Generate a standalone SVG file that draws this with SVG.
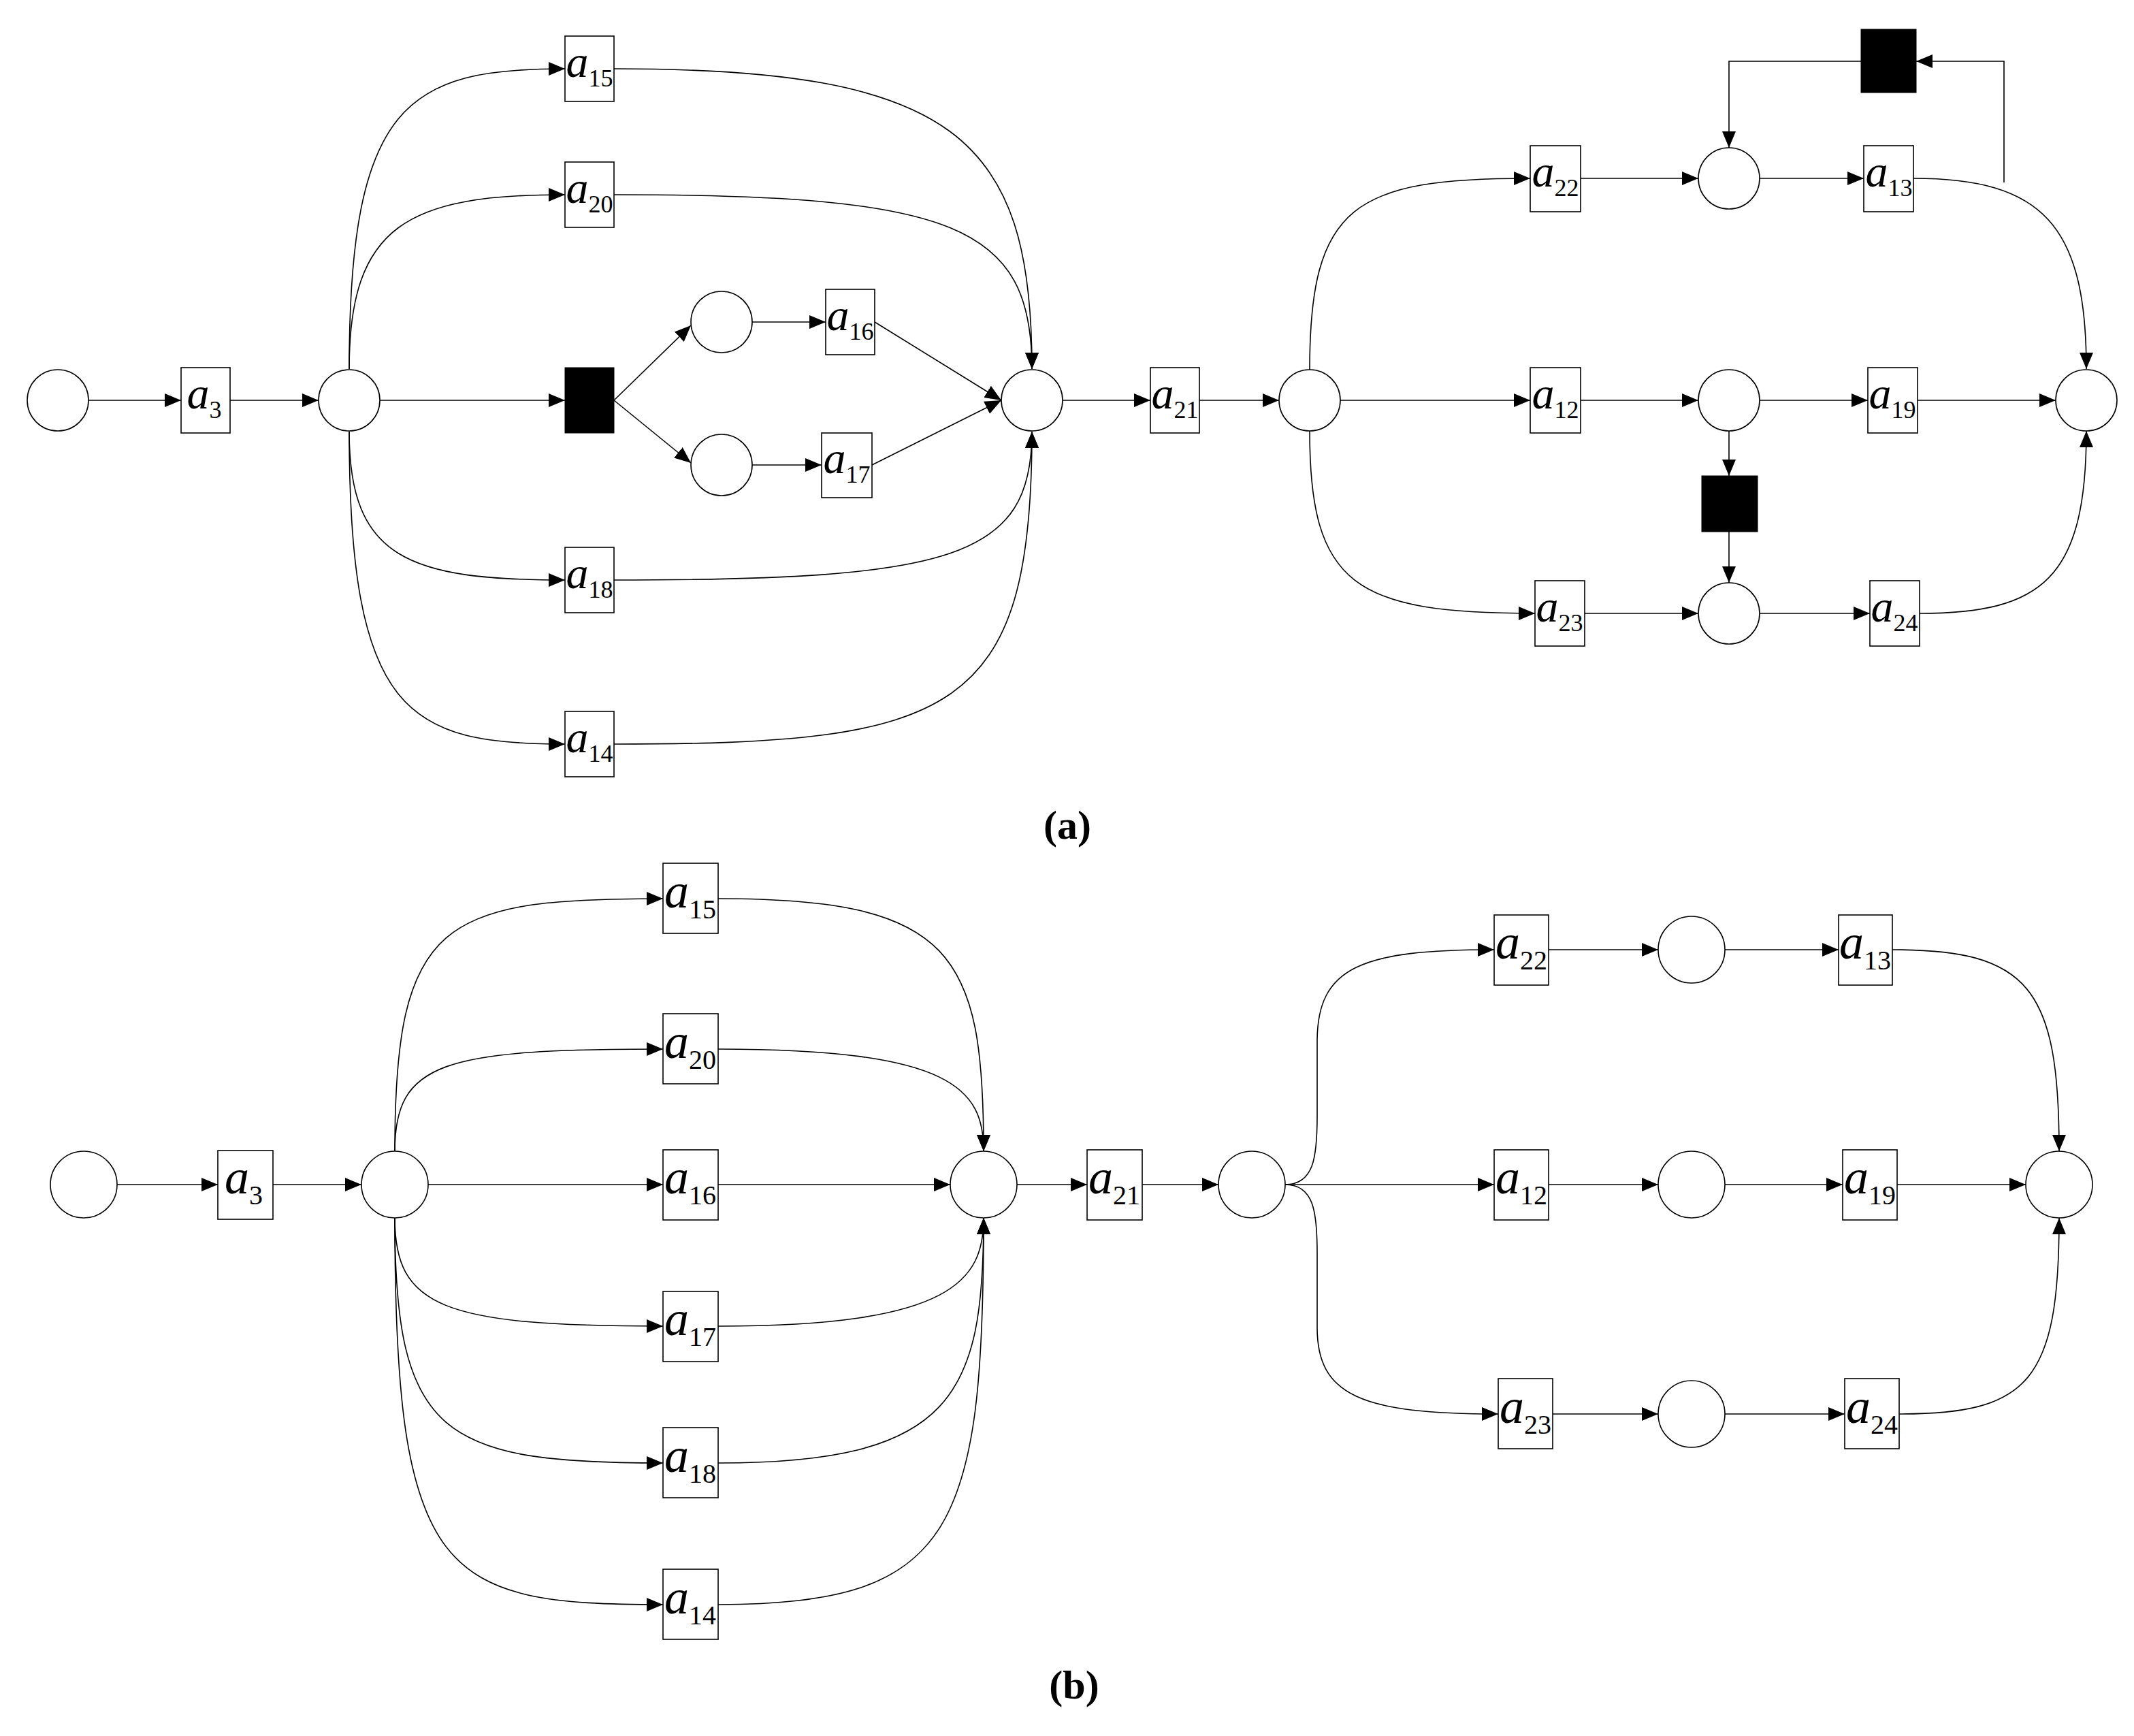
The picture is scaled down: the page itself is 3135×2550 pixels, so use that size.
<svg xmlns="http://www.w3.org/2000/svg" width="3135" height="2550" viewBox="0 0 3135 2550">
<style>
.p{fill:#fff;stroke:#000;stroke-width:1.6}
.t{fill:#fff;stroke:#000;stroke-width:1.6}
.k{fill:#000;stroke:#000}
.e{fill:none;stroke:#000;stroke-width:1.6;marker-end:url(#ar)}
.n{fill:none;stroke:#000;stroke-width:1.6}
.l{font-family:"Liberation Serif",serif;text-anchor:middle;fill:#000}
.a{font-style:italic;font-size:66px}
.s{font-size:36px}
.b .a{font-size:72px}
.b .s{font-size:40px}
.cap{font-family:"Liberation Serif",serif;font-weight:bold;font-size:60px;text-anchor:middle}
</style>
<defs>
<marker id="ar" markerUnits="userSpaceOnUse" markerWidth="24" markerHeight="24" viewBox="0 0 24 24" refX="24" refY="12" orient="auto"><path d="M0,2 L24,12 L0,22 Z" fill="#000"/></marker>
</defs>
<g id="connectors">
<!-- (a) -->
<path class="e" d="M130,588 H266"/>
<path class="e" d="M338,588 H468"/>
<path class="e" d="M513,542 C513,150 600,101 830,101"/>
<path class="e" d="M513,542 C513,330 600,286 830,286"/>
<path class="e" d="M513,634 C513,820 600,852 830,852"/>
<path class="e" d="M513,634 C513,1050 600,1093 830,1093"/>
<path class="e" d="M558,588 H830"/>
<path class="e" d="M902,588 L1015,478"/>
<path class="e" d="M902,588 L1015,680"/>
<path class="e" d="M1105,473 H1213"/>
<path class="e" d="M1105,683 H1207"/>
<path class="e" d="M1285,473 L1471,588"/>
<path class="e" d="M1281,683 L1471,588"/>
<path class="e" d="M902,101 C1400,101 1516,200 1516,542"/>
<path class="e" d="M902,286 C1400,286 1516,330 1516,542"/>
<path class="e" d="M902,852 C1400,852 1516,820 1516,634"/>
<path class="e" d="M902,1093 C1400,1093 1516,1050 1516,634"/>
<path class="e" d="M1561,588 H1690"/>
<path class="e" d="M1762,588 H1879"/>
<path class="e" d="M1924,543 C1924,300 1990,262 2248,262"/>
<path class="e" d="M1924,633 C1924,860 1990,901 2255,901"/>
<path class="e" d="M1969,588 H2248"/>
<path class="e" d="M2322,262 H2495"/>
<path class="e" d="M2585,262 H2738"/>
<path class="e" d="M2811,262 C3000,262 3065,330 3065,542"/>
<path class="e" d="M2944,268 V90 H2815"/>
<path class="e" d="M2734,90 H2540 V217"/>
<path class="e" d="M2322,588 H2495"/>
<path class="e" d="M2585,588 H2744"/>
<path class="e" d="M2817,588 H3020"/>
<path class="e" d="M2540,633 V699"/>
<path class="e" d="M2540,781 V856"/>
<path class="e" d="M2328,901 H2495"/>
<path class="e" d="M2585,901 H2747"/>
<path class="e" d="M2820,901 C3000,901 3065,850 3065,633"/>
<!-- (b) -->
<path class="e" d="M172,1740 H320"/>
<path class="e" d="M401,1740 H531"/>
<path class="e" d="M629,1740 H974"/>
<path class="e" d="M580,1691 C580,1350 650,1320 974,1320"/>
<path class="e" d="M580,1691 C580,1560 650,1541 974,1541"/>
<path class="e" d="M580,1789 C580,1920 650,1948 974,1948"/>
<path class="e" d="M580,1789 C580,2110 650,2149 974,2149"/>
<path class="e" d="M580,1789 C580,2320 650,2357 974,2357"/>
<path class="e" d="M1055,1320 C1400,1320 1445,1400 1445,1691"/>
<path class="e" d="M1055,1541 C1400,1541 1445,1600 1445,1691"/>
<path class="e" d="M1055,1740 H1396"/>
<path class="e" d="M1055,1948 C1400,1948 1445,1880 1445,1789"/>
<path class="e" d="M1055,2149 C1400,2149 1445,2050 1445,1789"/>
<path class="e" d="M1055,2357 C1400,2357 1445,2250 1445,1789"/>
<path class="e" d="M1494,1740 H1597"/>
<path class="e" d="M1678,1740 H1790"/>
<path class="e" d="M1888,1740 C1930,1740 1935,1700 1935,1640 L1935,1530 C1935,1420 2000,1395 2195,1395"/>
<path class="e" d="M1888,1740 C1930,1740 1935,1780 1935,1840 L1935,1950 C1935,2050 2000,2077 2201,2077"/>
<path class="e" d="M1888,1740 H2195"/>
<path class="e" d="M2275,1395 H2436"/>
<path class="e" d="M2534,1395 H2701"/>
<path class="e" d="M2780,1395 C2980,1395 3025,1450 3025,1691"/>
<path class="e" d="M2275,1740 H2436"/>
<path class="e" d="M2534,1740 H2707"/>
<path class="e" d="M2787,1740 H2976"/>
<path class="e" d="M2281,2077 H2436"/>
<path class="e" d="M2534,2077 H2710"/>
<path class="e" d="M2790,2077 C2980,2077 3025,2030 3025,1789"/>
</g>
<!-- (a) nodes -->
<g id="pa0"><circle class="p" cx="85" cy="588" r="45"/></g>
<g id="ta3"><rect class="t" x="266" y="540" width="72" height="96"/><text class="l" x="300" y="600"><tspan class="a">a</tspan><tspan class="s" dy="14">3</tspan></text></g>
<g id="pa1"><circle class="p" cx="513" cy="588" r="45"/></g>
<g id="ta15"><rect class="t" x="830" y="53" width="72" height="96"/><text class="l" x="866" y="113"><tspan class="a">a</tspan><tspan class="s" dy="14">15</tspan></text></g>
<g id="ta20"><rect class="t" x="830" y="238" width="72" height="96"/><text class="l" x="866" y="298"><tspan class="a">a</tspan><tspan class="s" dy="14">20</tspan></text></g>
<g id="tau1"><rect class="k" x="830" y="540" width="72" height="96"/></g>
<g id="pa2"><circle class="p" cx="1060" cy="473" r="45"/></g>
<g id="pa3"><circle class="p" cx="1060" cy="683" r="45"/></g>
<g id="ta16"><rect class="t" x="1213" y="425" width="72" height="96"/><text class="l" x="1249" y="485"><tspan class="a">a</tspan><tspan class="s" dy="14">16</tspan></text></g>
<g id="ta17"><rect class="t" x="1207" y="636" width="74" height="95"/><text class="l" x="1244" y="695"><tspan class="a">a</tspan><tspan class="s" dy="14">17</tspan></text></g>
<g id="ta18"><rect class="t" x="830" y="804" width="72" height="96"/><text class="l" x="866" y="864"><tspan class="a">a</tspan><tspan class="s" dy="14">18</tspan></text></g>
<g id="ta14"><rect class="t" x="830" y="1045" width="72" height="96"/><text class="l" x="866" y="1105"><tspan class="a">a</tspan><tspan class="s" dy="14">14</tspan></text></g>
<g id="pa4"><circle class="p" cx="1516" cy="588" r="45"/></g>
<g id="ta21"><rect class="t" x="1690" y="540" width="72" height="96"/><text class="l" x="1726" y="600"><tspan class="a">a</tspan><tspan class="s" dy="14">21</tspan></text></g>
<g id="pa5"><circle class="p" cx="1924" cy="588" r="45"/></g>
<g id="ta22"><rect class="t" x="2248" y="214" width="74" height="97"/><text class="l" x="2285" y="274"><tspan class="a">a</tspan><tspan class="s" dy="14">22</tspan></text></g>
<g id="ta12"><rect class="t" x="2248" y="540" width="74" height="96"/><text class="l" x="2285" y="600"><tspan class="a">a</tspan><tspan class="s" dy="14">12</tspan></text></g>
<g id="ta23"><rect class="t" x="2255" y="853" width="73" height="96"/><text class="l" x="2291" y="913"><tspan class="a">a</tspan><tspan class="s" dy="14">23</tspan></text></g>
<g id="pa6"><circle class="p" cx="2540" cy="262" r="45"/></g>
<g id="pa7"><circle class="p" cx="2540" cy="588" r="45"/></g>
<g id="pa8"><circle class="p" cx="2540" cy="901" r="45"/></g>
<g id="tau2"><rect class="k" x="2734" y="43" width="81" height="93"/></g>
<g id="tau3"><rect class="k" x="2500" y="699" width="82" height="82"/></g>
<g id="ta13"><rect class="t" x="2738" y="214" width="73" height="97"/><text class="l" x="2775" y="274"><tspan class="a">a</tspan><tspan class="s" dy="14">13</tspan></text></g>
<g id="ta19"><rect class="t" x="2744" y="540" width="73" height="96"/><text class="l" x="2780" y="600"><tspan class="a">a</tspan><tspan class="s" dy="14">19</tspan></text></g>
<g id="ta24"><rect class="t" x="2747" y="853" width="73" height="96"/><text class="l" x="2783" y="913"><tspan class="a">a</tspan><tspan class="s" dy="14">24</tspan></text></g>
<g id="pa9"><circle class="p" cx="3065" cy="588" r="45"/></g>
<text class="cap" x="1568" y="1232">(a)</text>
<!-- (b) nodes -->
<g class="b">
<g id="pb0"><circle class="p" cx="123" cy="1740" r="49"/></g>
<g id="tb3"><rect class="t" x="320" y="1690" width="81" height="101"/><text class="l" x="358" y="1753"><tspan class="a">a</tspan><tspan class="s" dy="16">3</tspan></text></g>
<g id="pb1"><circle class="p" cx="580" cy="1740" r="49"/></g>
<g id="tb15"><rect class="t" x="974" y="1268" width="81" height="103"/><text class="l" x="1014" y="1333"><tspan class="a">a</tspan><tspan class="s" dy="16">15</tspan></text></g>
<g id="tb20"><rect class="t" x="974" y="1489" width="81" height="103"/><text class="l" x="1014" y="1554"><tspan class="a">a</tspan><tspan class="s" dy="16">20</tspan></text></g>
<g id="tb16"><rect class="t" x="974" y="1689" width="81" height="103"/><text class="l" x="1014" y="1753"><tspan class="a">a</tspan><tspan class="s" dy="16">16</tspan></text></g>
<g id="tb17"><rect class="t" x="974" y="1897" width="81" height="103"/><text class="l" x="1014" y="1961"><tspan class="a">a</tspan><tspan class="s" dy="16">17</tspan></text></g>
<g id="tb18"><rect class="t" x="974" y="2097" width="81" height="103"/><text class="l" x="1014" y="2162"><tspan class="a">a</tspan><tspan class="s" dy="16">18</tspan></text></g>
<g id="tb14"><rect class="t" x="974" y="2305" width="81" height="103"/><text class="l" x="1014" y="2370"><tspan class="a">a</tspan><tspan class="s" dy="16">14</tspan></text></g>
<g id="pb2"><circle class="p" cx="1445" cy="1740" r="49"/></g>
<g id="tb21"><rect class="t" x="1597" y="1689" width="81" height="103"/><text class="l" x="1637" y="1753"><tspan class="a">a</tspan><tspan class="s" dy="16">21</tspan></text></g>
<g id="pb3"><circle class="p" cx="1839" cy="1740" r="49"/></g>
<g id="tb22"><rect class="t" x="2195" y="1344" width="80" height="103"/><text class="l" x="2235" y="1408"><tspan class="a">a</tspan><tspan class="s" dy="16">22</tspan></text></g>
<g id="tb12"><rect class="t" x="2195" y="1689" width="80" height="103"/><text class="l" x="2235" y="1753"><tspan class="a">a</tspan><tspan class="s" dy="16">12</tspan></text></g>
<g id="tb23"><rect class="t" x="2201" y="2025" width="80" height="103"/><text class="l" x="2241" y="2090"><tspan class="a">a</tspan><tspan class="s" dy="16">23</tspan></text></g>
<g id="pb4"><circle class="p" cx="2485" cy="1395" r="49"/></g>
<g id="pb5"><circle class="p" cx="2485" cy="1740" r="49"/></g>
<g id="pb6"><circle class="p" cx="2485" cy="2077" r="49"/></g>
<g id="tb13"><rect class="t" x="2701" y="1344" width="79" height="103"/><text class="l" x="2740" y="1408"><tspan class="a">a</tspan><tspan class="s" dy="16">13</tspan></text></g>
<g id="tb19"><rect class="t" x="2707" y="1689" width="80" height="103"/><text class="l" x="2747" y="1753"><tspan class="a">a</tspan><tspan class="s" dy="16">19</tspan></text></g>
<g id="tb24"><rect class="t" x="2710" y="2025" width="80" height="103"/><text class="l" x="2750" y="2090"><tspan class="a">a</tspan><tspan class="s" dy="16">24</tspan></text></g>
<g id="pb7"><circle class="p" cx="3025" cy="1740" r="49"/></g>
</g>
<text class="cap" x="1578" y="2495">(b)</text>
</svg>
